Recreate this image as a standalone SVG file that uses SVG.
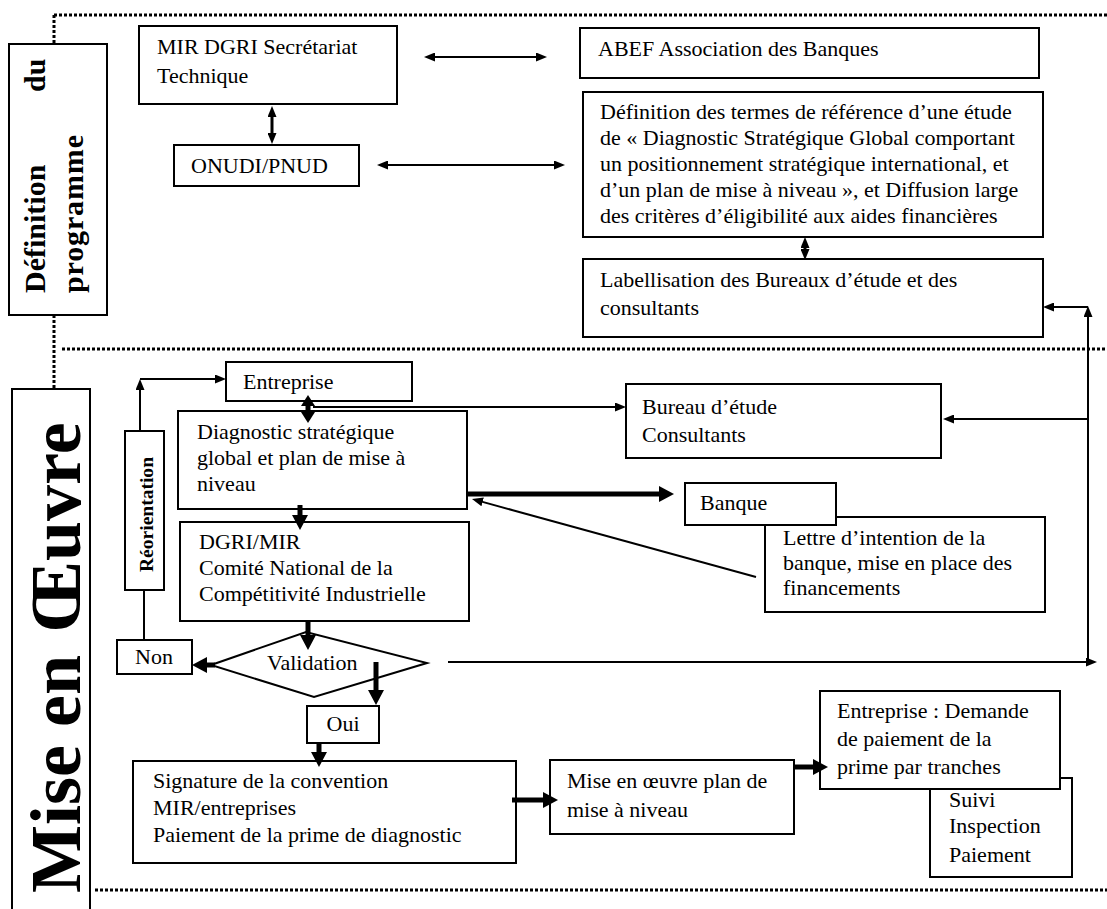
<svg xmlns="http://www.w3.org/2000/svg" width="1107" height="909" viewBox="0 0 1107 909">
<defs>
<style>
.box{fill:#fff;stroke:#000;stroke-width:2}
.t{font-family:"Liberation Serif","Times New Roman",serif;font-size:22px;fill:#000}
.lbl{font-family:"Liberation Serif","Times New Roman",serif;font-weight:bold;fill:#000}
.dot{fill:none;stroke:#000;stroke-width:3;stroke-dasharray:3 2}
.ln{fill:none;stroke:#000;stroke-width:2}
.lnm{fill:none;stroke:#000;stroke-width:3}
.tk{fill:none;stroke:#000;stroke-width:5}
</style>
<marker id="a" markerUnits="userSpaceOnUse" markerWidth="11" markerHeight="9" refX="2" refY="4.5" orient="auto-start-reverse"><path d="M0,0 L11,4.5 L0,9 z" fill="#000"/></marker>
<marker id="A" markerUnits="userSpaceOnUse" markerWidth="15" markerHeight="16" refX="3" refY="8" orient="auto-start-reverse"><path d="M0,0 L15,8 L0,16 z" fill="#000"/></marker>
</defs>
<rect width="1107" height="909" fill="#fff"/>

<g id="frames">
<path class="dot" d="M54,15 H1107"/>
<path class="dot" d="M54,15 V44"/>
<path class="dot" d="M54,315 V389"/>
<path class="dot" d="M62,349 H1107"/>
<path class="dot" d="M95,890 H1107"/>
</g>

<g id="sec-definition">
<rect class="box" x="9" y="44" width="98" height="271"/>
<text class="lbl" font-size="30" transform="translate(45,293) rotate(-90)">Définition</text>
<text class="lbl" font-size="30" transform="translate(45,92) rotate(-90)">du</text>
<text class="lbl" font-size="30" transform="translate(83,293) rotate(-90)" textLength="158" lengthAdjust="spacing">programme</text>
</g>

<g id="sec-mise">
<rect class="box" x="12" y="389" width="78" height="530"/>
<text class="lbl" font-size="72" transform="translate(80,893) rotate(-90)">Mise</text>
<text class="lbl" font-size="72" transform="translate(80,727) rotate(-90)">en</text>
<text class="lbl" font-size="72" transform="translate(80,633) rotate(-90)">Œuvre</text>
</g>

<g id="n-mir">
<rect class="box" x="139" y="26" width="258" height="78"/>
<text class="t" x="157" y="54">MIR DGRI Secrétariat</text>
<text class="t" x="157" y="83">Technique</text>
</g>
<g id="n-abef">
<rect class="box" x="580" y="28" width="459" height="50"/>
<text class="t" x="598" y="56">ABEF Association des Banques</text>
</g>
<g id="n-onudi">
<rect class="box" x="174" y="145" width="185" height="41"/>
<text class="t" x="191" y="173">ONUDI/PNUD</text>
</g>
<g id="n-def">
<rect class="box" x="583" y="92" width="460" height="145"/>
<text class="t" x="600" y="119">Définition des termes de référence d’une étude</text>
<text class="t" x="600" y="145">de « Diagnostic Stratégique Global comportant</text>
<text class="t" x="600" y="171">un positionnement stratégique international, et</text>
<text class="t" x="600" y="197">d’un plan de mise à niveau », et Diffusion large</text>
<text class="t" x="600" y="223">des critères d’éligibilité aux aides financières</text>
</g>
<g id="n-label">
<rect class="box" x="583" y="259" width="460" height="78"/>
<text class="t" x="600" y="287">Labellisation des Bureaux d’étude et des</text>
<text class="t" x="600" y="315">consultants</text>
</g>

<g id="n-entreprise">
<rect class="box" x="226" y="362" width="186" height="39"/>
<text class="t" x="243" y="389">Entreprise</text>
</g>
<g id="n-diag">
<rect class="box" x="178" y="411" width="289" height="98"/>
<text class="t" x="197" y="439">Diagnostic stratégique</text>
<text class="t" x="197" y="465">global et plan de mise à</text>
<text class="t" x="197" y="491">niveau</text>
</g>
<g id="n-dgri">
<rect class="box" x="180" y="522" width="289" height="99"/>
<text class="t" x="199" y="549">DGRI/MIR</text>
<text class="t" x="199" y="575">Comité National de la</text>
<text class="t" x="199" y="601">Compétitivité Industrielle</text>
</g>
<g id="n-bureau">
<rect class="box" x="626" y="384" width="315" height="74"/>
<text class="t" x="642" y="414">Bureau d’étude</text>
<text class="t" x="642" y="442">Consultants</text>
</g>
<g id="n-lettre">
<rect class="box" x="765" y="517" width="280" height="95"/>
<text class="t" x="783" y="545">Lettre d’intention de la</text>
<text class="t" x="783" y="570">banque, mise en place des</text>
<text class="t" x="783" y="595">financements</text>
</g>
<g id="n-banque">
<rect class="box" x="685" y="483" width="151" height="42"/>
<text class="t" x="700" y="510">Banque</text>
</g>
<g id="n-reorientation">
<rect class="box" x="125" y="431" width="39" height="159"/>
<text class="lbl" font-size="19" transform="translate(153,572) rotate(-90)" textLength="115" lengthAdjust="spacingAndGlyphs">Réorientation</text>
</g>
<g id="n-validation">
<polygon class="box" points="211,665 306,632 427,663 314,697"/>
<text class="t" x="267" y="670">Validation</text>
</g>
<g id="n-non">
<rect class="box" x="117" y="640" width="75" height="34"/>
<text class="t" x="154" y="664" font-size="18" text-anchor="middle">Non</text>
</g>
<g id="n-oui">
<rect class="box" x="307" y="706" width="72" height="37"/>
<text class="t" x="343" y="731" font-size="20" text-anchor="middle">Oui</text>
</g>
<g id="n-signature">
<rect class="box" x="133" y="761" width="383" height="102"/>
<text class="t" x="153" y="788">Signature de la convention</text>
<text class="t" x="153" y="815">MIR/entreprises</text>
<text class="t" x="153" y="842">Paiement de la prime de diagnostic</text>
</g>
<g id="n-mise">
<rect class="box" x="550" y="760" width="244" height="74"/>
<text class="t" x="567" y="788">Mise en œuvre plan de</text>
<text class="t" x="567" y="817">mise à niveau</text>
</g>
<g id="n-suivi">
<rect class="box" x="930" y="778" width="142" height="99"/>
<text class="t" x="949" y="807">Suivi</text>
<text class="t" x="949" y="833">Inspection</text>
<text class="t" x="949" y="862">Paiement</text>
</g>
<g id="n-demande">
<rect class="box" x="820" y="691" width="240" height="98"/>
<text class="t" x="837" y="718">Entreprise : Demande</text>
<text class="t" x="837" y="746">de paiement de la</text>
<text class="t" x="837" y="774">prime par tranches</text>
</g>

<g id="connectors">
<path class="ln" d="M433,57 H538" marker-start="url(#a)" marker-end="url(#a)"/>
<path class="lnm" d="M272,115 V135" marker-start="url(#a)" marker-end="url(#a)"/>
<path class="ln" d="M386,165 H556" marker-start="url(#a)" marker-end="url(#a)"/>
<path class="lnm" d="M805,246 V251" marker-start="url(#a)" marker-end="url(#a)"/>
<path class="ln" d="M448,662 H1088" marker-end="url(#a)"/>
<path class="ln" d="M1088,662 V315" marker-end="url(#a)"/>
<path class="ln" d="M1088,307 H1052" marker-end="url(#a)"/>
<path class="ln" d="M1088,419 H952" marker-end="url(#a)"/>
<path class="ln" d="M313,407 H617" marker-end="url(#a)"/>
<path class="ln" d="M144,640 V590"/>
<path class="ln" d="M140,431 V388" marker-end="url(#a)"/>
<path class="ln" d="M140,379 H217" marker-end="url(#a)"/>
<path class="ln" d="M756,577 L480.7,501.4" marker-end="url(#a)"/>
<path class="tk" d="M308,404 V414"/>
<polygon points="308,395 301,406 315,406" fill="#000"/>
<polygon points="308,423 301,412 315,412" fill="#000"/>
<path class="tk" d="M300,505 V518" marker-end="url(#A)"/>
<path class="tk" d="M468,494 H662" marker-end="url(#A)"/>
<path class="tk" d="M308,621 V638" marker-end="url(#A)"/>
<path class="tk" d="M215,665 H204" marker-end="url(#A)"/>
<path class="tk" d="M376,662 V693" marker-end="url(#A)"/>
<path class="tk" d="M319,743 V755" marker-end="url(#A)"/>
<path class="tk" d="M512,800 H546" marker-end="url(#A)"/>
<path class="tk" d="M794,767 H816" marker-end="url(#A)"/>
</g>
</svg>
